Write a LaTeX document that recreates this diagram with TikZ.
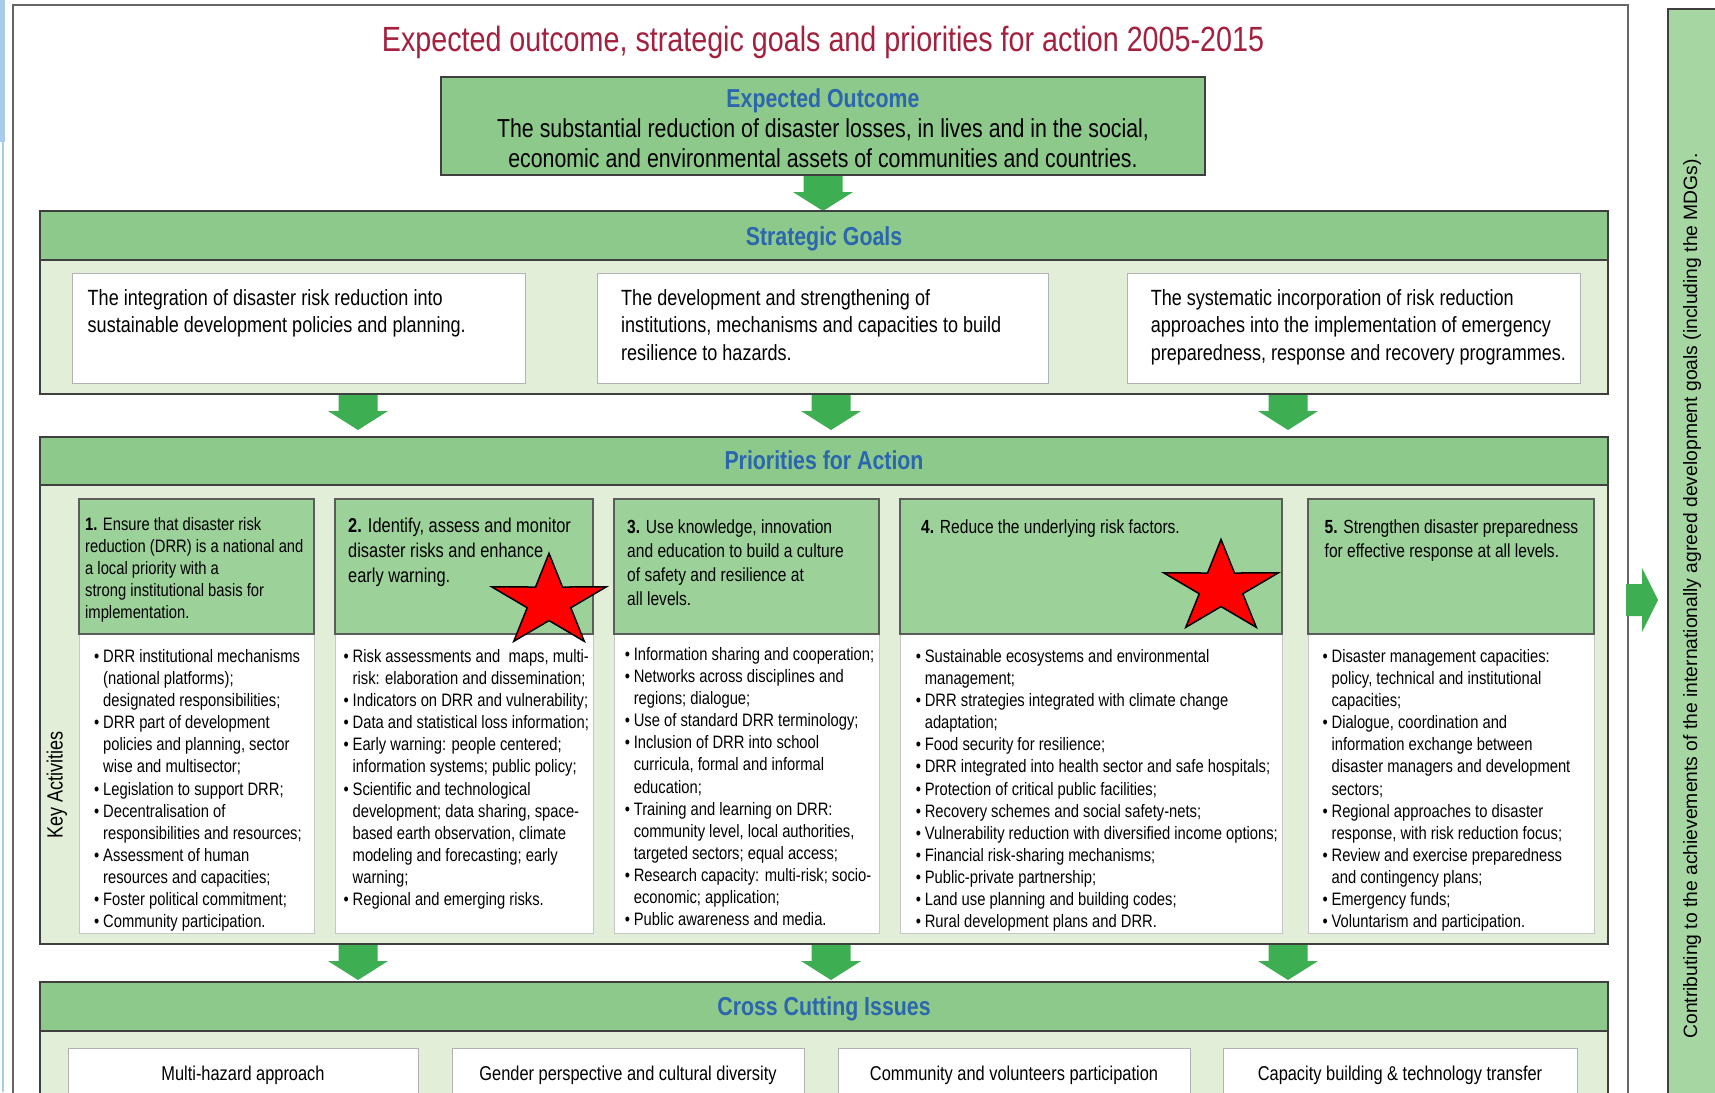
\documentclass[tikz,border=0pt]{standalone}
\usepackage{fontspec}
\setmainfont{Liberation Sans}[FakeStretch=0.82]
\newfontfamily\widefont{Liberation Sans}
\definecolor{titlered}{HTML}{A3213F}
\definecolor{headblue}{HTML}{2B66AE}
\definecolor{bandgreen}{HTML}{8DC98B}
\definecolor{colgreen}{HTML}{9DD19A}
\definecolor{paleg}{HTML}{E3EED8}
\definecolor{arrowg}{HTML}{3DAE52}
\definecolor{bargreen}{HTML}{A6D6A2}
\definecolor{edge}{HTML}{3F3F3F}
\definecolor{lightblue}{HTML}{A9CBEA}
\newcommand{\bul}{\makebox[9pt][l]{\textbullet}}
\newcommand{\cnt}{\hspace*{9pt}}
\tikzset{
  bandbody/.style={draw=edge, line width=1.6pt, fill=paleg},
  bandhead/.style={draw=edge, line width=1.6pt, fill=bandgreen},
  headtext/.style={font=\bfseries\fontsize{26}{30}\selectfont, text=headblue, inner sep=0pt, anchor=base},
  goalbox/.style={draw=gray!60, line width=1pt, fill=white},
  goaltext/.style={font=\fontsize{22}{27.3}\selectfont, align=left, anchor=north west, inner sep=0pt},
  colhead/.style={draw=edge!85, line width=1.4pt, fill=colgreen},
  colbody/.style={draw=gray!45, line width=1pt, fill=white},
  headone/.style={font=\fontsize{18}{22}\selectfont, align=left, anchor=north west, inner sep=0pt},
  headtwo/.style={font=\fontsize{20}{25}\selectfont, align=left, anchor=north west, inner sep=0pt},
  headmore/.style={font=\fontsize{19}{24.2}\selectfont, align=left, anchor=north west, inner sep=0pt},
  bodytext/.style={font=\fontsize{18}{22.06}\selectfont, align=left, anchor=north west, inner sep=0pt},
  crosstext/.style={font=\fontsize{20}{24}\selectfont, inner sep=0pt, anchor=base},
  redstar/.style={fill=red, draw=black, line width=1.5pt, line join=miter},
  dnarrow/.pic={\fill[arrowg] (-19.5,0) -- (19.5,0) -- (19.5,16) -- (30,16) -- (0,35) -- (-30,16) -- (-19.5,16) -- cycle;}
}
\begin{document}
\begin{tikzpicture}[x=1pt,y=-1pt]
\useasboundingbox (0,0) rectangle (1715,1092);
\fill[white] (0,0) rectangle (1715,1092);
% left screenshot edge
\fill[lightblue] (0,0) rectangle (5,142);
\draw[lightblue, line width=1.5pt] (3,142) -- (3,1092);
% outer frame
\draw[gray!80!black, line width=1.2pt] (13,1100) -- (13,5) -- (1628,5) -- (1628,1100);
% right bar
\draw[fill=bargreen, draw=edge, line width=1.2pt] (1668,1100) -- (1668,9) -- (1720,9) -- (1720,1100) -- cycle;
\node[font=\widefont\fontsize{19.3}{22}\selectfont, rotate=90, inner sep=0pt] (mdg) at (1692,596) {Contributing to the achievements of the internationally agreed development goals (including the MDGs).};
\fill[arrowg] (1626,584) -- (1642,584) -- (1642,568) -- (1658,600) -- (1642,632) -- (1642,616) -- (1626,616) -- cycle;
% title
\node[font=\fontsize{35}{40}\selectfont, text=titlered, inner sep=0pt, anchor=base] (title) at (823,51) {Expected outcome, strategic goals and priorities for action 2005-2015};
% expected outcome
\draw[bandhead, line width=1.8pt] (441,77) rectangle (1205,175);
\node[headtext] (eohead) at (823,107) {Expected Outcome};
\node[font=\fontsize{26}{30}\selectfont, inner sep=0pt, anchor=base] (eo1) at (823,137) {The substantial reduction of disaster losses, in lives and in the social,};
\node[font=\fontsize{26}{30}\selectfont, inner sep=0pt, anchor=base] (eo2) at (823,167) {economic and environmental assets of communities and countries.};
\pic at (823,176) {dnarrow};
% strategic goals
\draw[bandbody] (40,211) rectangle (1608,394);
\draw[bandhead] (40,211) rectangle (1608,260);
\node[headtext] (sghead) at (824,245.5) {Strategic Goals};
\draw[goalbox] (72,273) rectangle (525,383);
\draw[goalbox] (597,273) rectangle (1048,383);
\draw[goalbox] (1127,273) rectangle (1580,383);
\node[goaltext] (sg1) at (87.5,286.3) {\strut The integration of disaster risk reduction into\\sustainable development policies and planning.};
\node[goaltext] (sg2) at (621,286.3) {\strut The development and strengthening of\\institutions, mechanisms and capacities to build\\resilience to hazards.};
\node[goaltext] (sg3) at (1150.6,286.3) {\strut The systematic incorporation of risk reduction\\approaches into the implementation of emergency\\preparedness, response and recovery programmes.};
\pic at (358,395) {dnarrow};
\pic at (831,395) {dnarrow};
\pic at (1288,395) {dnarrow};
% priorities for action
\draw[bandbody] (40,437) rectangle (1608,944);
\draw[bandhead] (40,437) rectangle (1608,485);
\node[headtext] (pahead) at (824,469.4) {Priorities for Action};
\node[font=\fontsize{22}{24}\selectfont, rotate=90, inner sep=0pt] (key) at (57,785) {Key Activities};
\foreach \a/\b in {79/314, 335/593, 614/879, 900/1282, 1308/1594}{
  \draw[colbody] (\a,634) rectangle (\b,933);
  \draw[colhead] (\a,499) rectangle (\b,634);
}
\node[headone] (h1) at (85,515) {\strut\textbf{1.} Ensure that disaster risk\\reduction (DRR) is a national and\\a local priority with a\\strong institutional basis for\\implementation.};
\node[headtwo] (h2) at (348,514.5) {\strut\textbf{2.} Identify, assess and monitor\\disaster risks and enhance\\early warning.};
\node[headmore] (h3) at (627,516) {\strut\textbf{3.} Use knowledge, innovation\\and education to build a culture\\of safety and resilience at\\all levels.};
\node[headmore] (h4) at (921,516) {\strut\textbf{4.} Reduce the underlying risk factors.};
\node[headmore] (h5) at (1324.5,516) {\strut\textbf{5.} Strengthen disaster preparedness\\for effective response at all levels.};
\node[bodytext] (b1) at (94,647) {\strut\bul DRR institutional mechanisms\\\cnt(national platforms);\\\cnt designated responsibilities;\\\bul DRR part of development\\\cnt policies and planning, sector\\\cnt wise and multisector;\\\bul Legislation to support DRR;\\\bul Decentralisation of\\\cnt responsibilities and resources;\\\bul Assessment of human\\\cnt resources and capacities;\\\bul Foster political commitment;\\\bul Community participation.};
\node[bodytext] (b2) at (343.5,647) {\strut\bul Risk assessments and\ \ maps, multi-\\\cnt risk: elaboration and dissemination;\\\bul Indicators on DRR and vulnerability;\\\bul Data and statistical loss information;\\\bul Early warning: people centered;\\\cnt information systems; public policy;\\\bul Scientific and technological\\\cnt development; data sharing, space-\\\cnt based earth observation, climate\\\cnt modeling and forecasting; early\\\cnt warning;\\\bul Regional and emerging risks.};
\node[bodytext] (b3) at (624.6,645) {\strut\bul Information sharing and cooperation;\\\bul Networks across disciplines and\\\cnt regions; dialogue;\\\bul Use of standard DRR terminology;\\\bul Inclusion of DRR into school\\\cnt curricula, formal and informal\\\cnt education;\\\bul Training and learning on DRR:\\\cnt community level, local authorities,\\\cnt targeted sectors; equal access;\\\bul Research capacity: multi-risk; socio-\\\cnt economic; application;\\\bul Public awareness and media.};
\node[bodytext] (b4) at (915.6,647) {\strut\bul Sustainable ecosystems and environmental\\\cnt management;\\\bul DRR strategies integrated with climate change\\\cnt adaptation;\\\bul Food security for resilience;\\\bul DRR integrated into health sector and safe hospitals;\\\bul Protection of critical public facilities;\\\bul Recovery schemes and social safety-nets;\\\bul Vulnerability reduction with diversified income options;\\\bul Financial risk-sharing mechanisms;\\\bul Public-private partnership;\\\bul Land use planning and building codes;\\\bul Rural development plans and DRR.};
\node[bodytext] (b5) at (1322.4,647) {\strut\bul Disaster management capacities:\\\cnt policy, technical and institutional\\\cnt capacities;\\\bul Dialogue, coordination and\\\cnt information exchange between\\\cnt disaster managers and development\\\cnt sectors;\\\bul Regional approaches to disaster\\\cnt response, with risk reduction focus;\\\bul Review and exercise preparedness\\\cnt and contingency plans;\\\bul Emergency funds;\\\bul Voluntarism and participation.};
% stars
\begin{scope}[shift={(549,602)}, yscale=-0.81]
\draw[redstar] (90:60) -- (126:22.9) -- (162:60) -- (198:22.9) -- (234:60) -- (270:22.9) -- (306:60) -- (342:22.9) -- (18:60) -- (54:22.9) -- cycle;
\end{scope}
\begin{scope}[shift={(1221,588)}, yscale=-0.81]
\draw[redstar] (90:60) -- (126:22.9) -- (162:60) -- (198:22.9) -- (234:60) -- (270:22.9) -- (306:60) -- (342:22.9) -- (18:60) -- (54:22.9) -- cycle;
\end{scope}
\pic at (358,945) {dnarrow};
\pic at (831,945) {dnarrow};
\pic at (1288,945) {dnarrow};
% cross cutting issues
\draw[bandbody] (40,982) rectangle (1608,1110);
\draw[bandhead] (40,982) rectangle (1608,1031);
\node[headtext] (cchead) at (824,1015.4) {Cross Cutting Issues};
\draw[goalbox] (68,1048) rectangle (418,1110);
\draw[goalbox] (452,1048) rectangle (804,1110);
\draw[goalbox] (838,1048) rectangle (1190,1110);
\draw[goalbox] (1223,1048) rectangle (1577,1110);
\node[crosstext] (cc1) at (243,1080) {Multi-hazard approach};
\node[crosstext] (cc2) at (628,1080) {Gender perspective and cultural diversity};
\node[crosstext] (cc3) at (1014,1080) {Community and volunteers participation};
\node[crosstext] (cc4) at (1400,1080) {Capacity building \& technology transfer};
\end{tikzpicture}
\end{document}
